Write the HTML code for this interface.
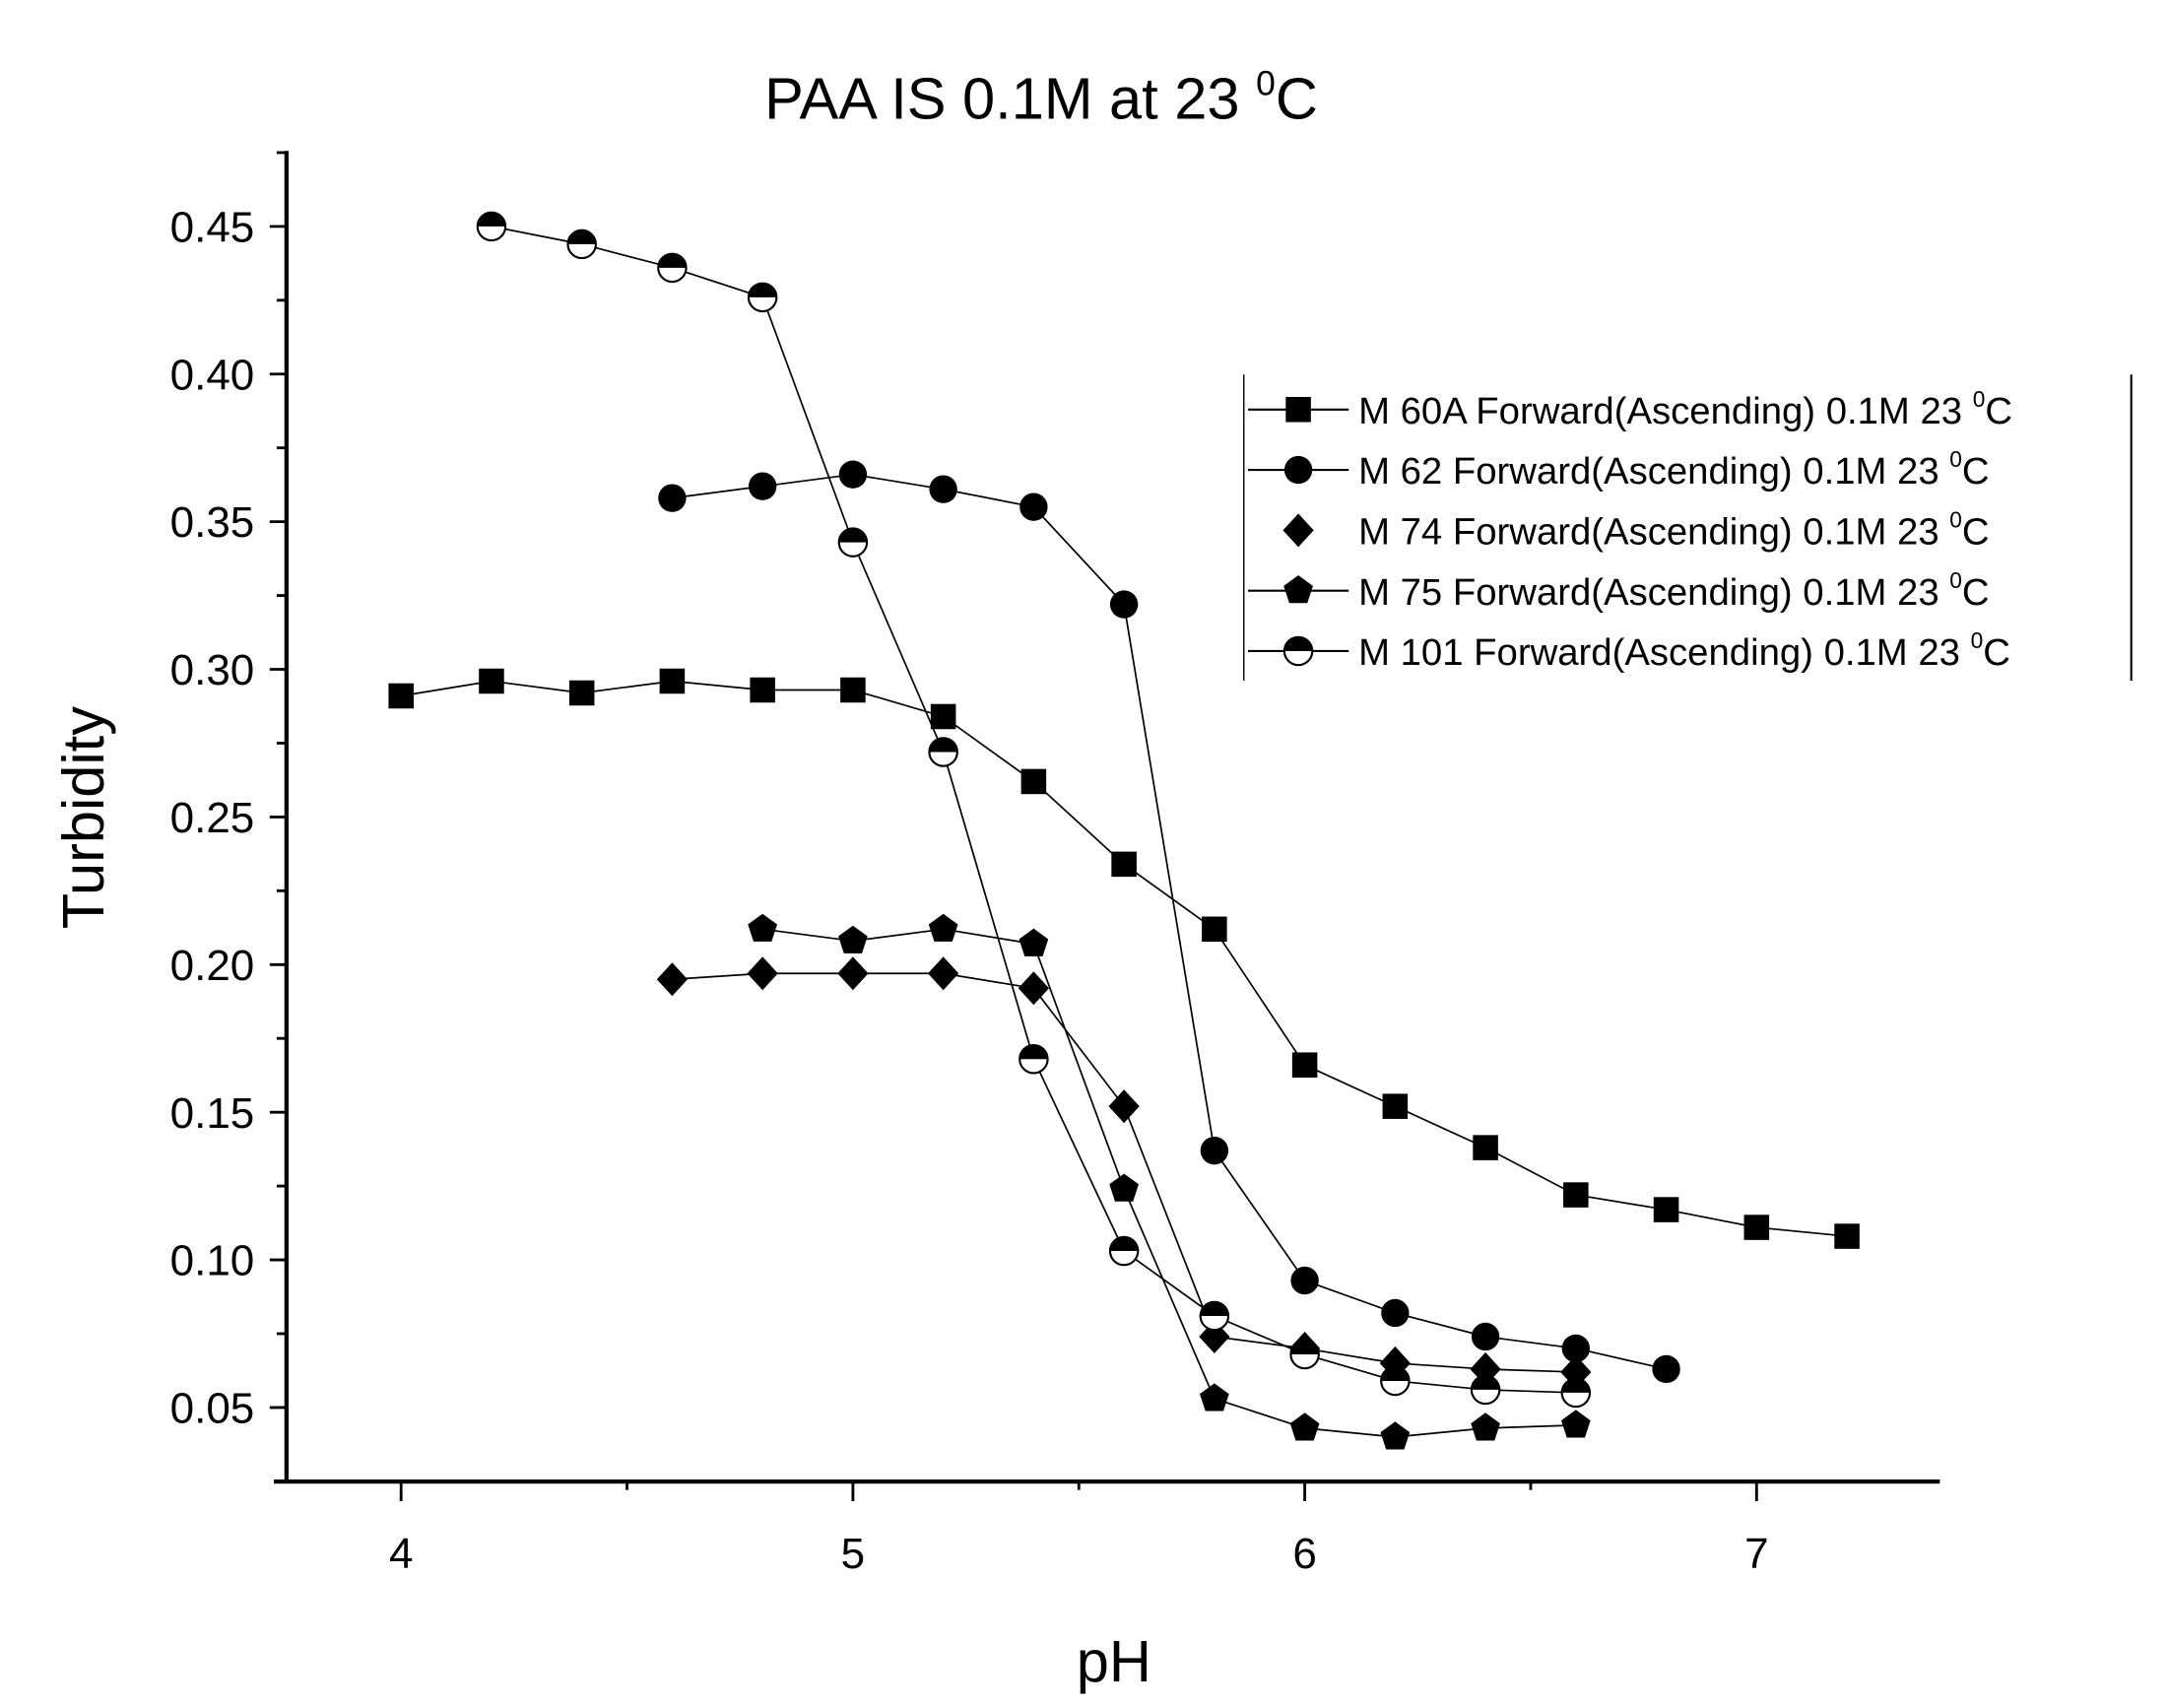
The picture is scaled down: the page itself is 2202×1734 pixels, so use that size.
<!DOCTYPE html>
<html><head><meta charset="utf-8"><style>
html,body{margin:0;padding:0;background:#fff}
svg{display:block}
text{font-family:"Liberation Sans",Arial,sans-serif;fill:#000}
</style></head><body>
<svg id="s" width="2202" height="1734" viewBox="0 0 1552 1222" preserveAspectRatio="none" xmlns="http://www.w3.org/2000/svg">
<g id="g"></g>
<text x="745" y="85" font-size="42" text-anchor="middle">PAA IS 0.1M at 23 <tspan dy="-17" font-size="25">0</tspan><tspan dy="17">C</tspan></text>
<text x="797" y="1203" font-size="42" text-anchor="middle">pH</text>
<text transform="translate(74,585) rotate(-90)" font-size="42" text-anchor="middle">Turbidity</text>
</svg>
<script>
const NS="http://www.w3.org/2000/svg";const g=document.getElementById('g');
function el(t,a,p){const e=document.createElementNS(NS,t);for(const k in a)e.setAttribute(k,a[k]);(p||g).appendChild(e);return e;}
const X=p=>287+(p-4)*323.3, Y=v=>1007-(v-0.05)*2112.5;
el('line',{x1:205,y1:108,x2:205,y2:1061,stroke:'#000','stroke-width':3});
el('line',{x1:196,y1:1060,x2:1388,y2:1060,stroke:'#000','stroke-width':3});
for(let i=0;i<=18;i++){const v=0.025+i*0.025;const y=Y(v);if(y<108)break;const maj=i%2==1;
 el('line',{x1:maj?193:198,y1:y,x2:205,y2:y,stroke:'#000','stroke-width':2});
 if(maj){const t=el('text',{x:182,y:y+11,'font-size':31,'text-anchor':'end'});t.textContent=v.toFixed(2);}}
for(let i=0;i<=6;i++){const p=4+i*0.5;const x=X(p);const maj=i%2==0;
 el('line',{x1:x,y1:1060,x2:x,y2:maj?1074:1066,stroke:'#000','stroke-width':2});
 if(maj){const t=el('text',{x:x,y:1122,'font-size':31,'text-anchor':'middle'});t.textContent=p;}}
function marker(type,x,y){
 if(type=='sq')el('rect',{x:x-9,y:y-9,width:18,height:18,fill:'#000'});
 else if(type=='ci')el('circle',{cx:x,cy:y,r:10,fill:'#000'});
 else if(type=='di')el('polygon',{points:`${x},${y-12} ${x+11},${y} ${x},${y+12} ${x-11},${y}`,fill:'#000'});
 else if(type=='pe'){let pts=[];for(let k=0;k<5;k++){const a=-Math.PI/2+k*2*Math.PI/5;pts.push((x+11*Math.cos(a))+','+(y+11*Math.sin(a)));}el('polygon',{points:pts.join(' '),fill:'#000'});}
 else if(type=='hc'){el('circle',{cx:x,cy:y,r:10,fill:'#fff',stroke:'#000','stroke-width':1.5});el('path',{d:`M${x-10},${y} A10,10 0 0 1 ${x+10},${y} Z`,fill:'#000'});}
}
const S=[
['sq',[[4,.291],[4.2,.296],[4.4,.292],[4.6,.296],[4.8,.293],[5,.293],[5.2,.284],[5.4,.262],[5.6,.234],[5.8,.212],[6,.166],[6.2,.152],[6.4,.138],[6.6,.122],[6.8,.117],[7,.111],[7.2,.108]]],
['ci',[[4.6,.358],[4.8,.362],[5,.366],[5.2,.361],[5.4,.355],[5.6,.322],[5.8,.137],[6,.093],[6.2,.082],[6.4,.074],[6.6,.070],[6.8,.063]]],
['di',[[4.6,.195],[4.8,.197],[5,.197],[5.2,.197],[5.4,.192],[5.6,.152],[5.8,.074],[6,.070],[6.2,.065],[6.4,.063],[6.6,.062]]],
['pe',[[4.8,.212],[5,.208],[5.2,.212],[5.4,.207],[5.6,.124],[5.8,.053],[6,.043],[6.2,.040],[6.4,.043],[6.6,.044]]],
['hc',[[4.2,.450],[4.4,.444],[4.6,.436],[4.8,.426],[5,.343],[5.2,.272],[5.4,.168],[5.6,.103],[5.8,.081],[6,.068],[6.2,.059],[6.4,.056],[6.6,.055]]]];
S.forEach(([t,d])=>{el('polyline',{points:d.map(p=>X(p[0])+','+Y(p[1])).join(' '),fill:'none',stroke:'#000','stroke-width':1.2});});
S.forEach(([t,d])=>d.forEach(p=>marker(t,X(p[0]),Y(p[1]))));
el('line',{x1:890,y1:268,x2:890,y2:487,stroke:'#000','stroke-width':1});
el('line',{x1:1525,y1:268,x2:1525,y2:487,stroke:'#000','stroke-width':1.5});
const labs=['M 60A','M 62','M 74','M 75','M 101'];
S.forEach(([t],i)=>{const y=293+i*43.2;
 if(t!='di')el('line',{x1:893,y1:y,x2:965,y2:y,stroke:'#000','stroke-width':1.5});
 marker(t,929,y);
 const tx=el('text',{x:972,y:y+10,'font-size':27});
 tx.innerHTML=labs[i]+' Forward(Ascending) 0.1M 23 <tspan dy="-12" font-size="16">0</tspan><tspan dy="12">C</tspan>';
});
</script>
</body></html>
